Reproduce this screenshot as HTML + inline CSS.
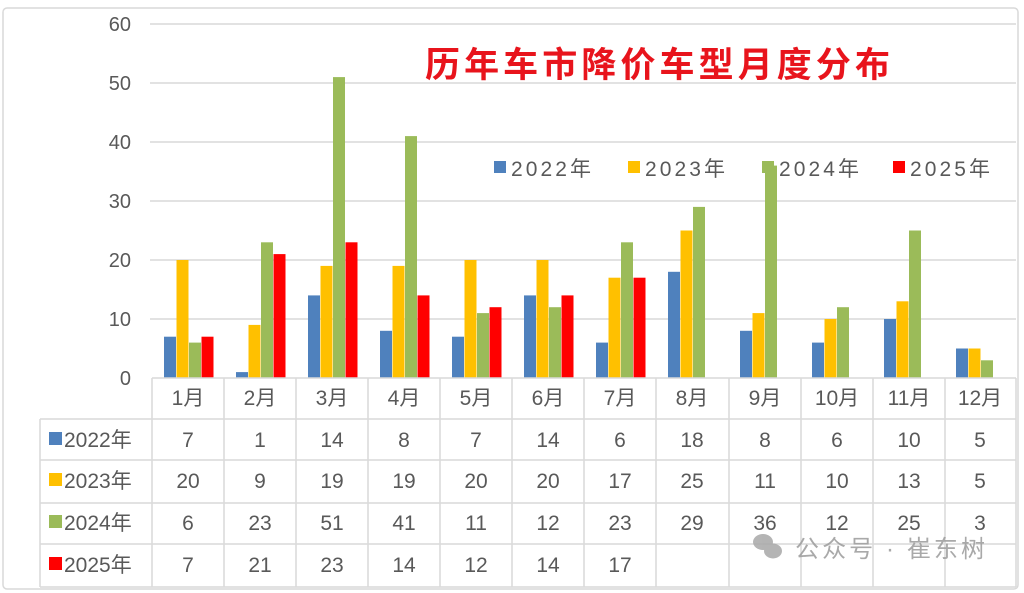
<!DOCTYPE html>
<html><head><meta charset="utf-8"><style>
html,body{margin:0;padding:0;background:#fff;}
svg{display:block;font-family:"Liberation Sans","Noto Sans CJK SC",sans-serif;}
</style></head><body>
<svg width="1024" height="593" viewBox="0 0 1024 593">
<rect x="3" y="8" width="1015" height="581" rx="4" fill="#fff" stroke="#d9d9d9" stroke-width="1.5"/>
<g stroke="#d9d9d9" stroke-width="1.5">
<line x1="150" y1="24" x2="1016" y2="24"/><line x1="150" y1="83" x2="1016" y2="83"/>
<line x1="150" y1="142" x2="1016" y2="142"/><line x1="150" y1="201" x2="1016" y2="201"/>
<line x1="150" y1="260" x2="1016" y2="260"/><line x1="150" y1="319" x2="1016" y2="319"/>
</g>
<g font-size="20" fill="#595959" text-anchor="end">
<text x="131" y="31">60</text><text x="131" y="90">50</text><text x="131" y="149">40</text>
<text x="131" y="208">30</text><text x="131" y="267">20</text><text x="131" y="326">10</text><text x="131" y="385">0</text>
</g>
<text x="425" y="77" font-size="35" font-weight="bold" fill="#e8141c" textLength="465">历年车市降价车型月度分布</text>
<g font-size="21" fill="#595959">
<rect x="494" y="161" width="12" height="12" fill="#4F81BD"/><text x="511" y="176" textLength="80">2022年</text>
<rect x="628" y="161" width="12" height="12" fill="#FFC000"/><text x="645" y="176" textLength="80">2023年</text>
<rect x="762" y="161" width="12" height="12" fill="#9BBB59"/><text x="779" y="176" textLength="80">2024年</text>
<rect x="893" y="161" width="12" height="12" fill="#FF0000"/><text x="910" y="176" textLength="80">2025年</text>
</g>
<g transform="translate(0,378) scale(1,-5.9)">
<g fill="#4F81BD">
<rect x="164" y="0" width="12" height="7"/><rect x="236" y="0" width="12" height="1"/><rect x="308" y="0" width="12" height="14"/><rect x="380" y="0" width="12" height="8"/><rect x="452" y="0" width="12" height="7"/><rect x="524" y="0" width="12" height="14"/><rect x="596" y="0" width="12" height="6"/><rect x="668" y="0" width="12" height="18"/><rect x="740" y="0" width="12" height="8"/><rect x="812" y="0" width="12" height="6"/><rect x="884" y="0" width="12" height="10"/><rect x="956" y="0" width="12" height="5"/>
</g>
<g fill="#FFC000">
<rect x="176.5" y="0" width="12" height="20"/><rect x="248.5" y="0" width="12" height="9"/><rect x="320.5" y="0" width="12" height="19"/><rect x="392.5" y="0" width="12" height="19"/><rect x="464.5" y="0" width="12" height="20"/><rect x="536.5" y="0" width="12" height="20"/><rect x="608.5" y="0" width="12" height="17"/><rect x="680.5" y="0" width="12" height="25"/><rect x="752.5" y="0" width="12" height="11"/><rect x="824.5" y="0" width="12" height="10"/><rect x="896.5" y="0" width="12" height="13"/><rect x="968.5" y="0" width="12" height="5"/>
</g>
<g fill="#9BBB59">
<rect x="189" y="0" width="12" height="6"/><rect x="261" y="0" width="12" height="23"/><rect x="333" y="0" width="12" height="51"/><rect x="405" y="0" width="12" height="41"/><rect x="477" y="0" width="12" height="11"/><rect x="549" y="0" width="12" height="12"/><rect x="621" y="0" width="12" height="23"/><rect x="693" y="0" width="12" height="29"/><rect x="765" y="0" width="12" height="36"/><rect x="837" y="0" width="12" height="12"/><rect x="909" y="0" width="12" height="25"/><rect x="981" y="0" width="12" height="3"/>
</g>
<g fill="#FF0000">
<rect x="201.5" y="0" width="12" height="7"/><rect x="273.5" y="0" width="12" height="21"/><rect x="345.5" y="0" width="12" height="23"/><rect x="417.5" y="0" width="12" height="14"/><rect x="489.5" y="0" width="12" height="12"/><rect x="561.5" y="0" width="12" height="14"/><rect x="633.5" y="0" width="12" height="17"/>
</g>
</g>
<g stroke="#d9d9d9" stroke-width="1.5" fill="none">
<line x1="152" y1="378" x2="1016" y2="378"/>
<line x1="40" y1="419" x2="1016" y2="419"/><line x1="40" y1="460" x2="1016" y2="460"/>
<line x1="40" y1="503" x2="1016" y2="503"/><line x1="40" y1="544" x2="1016" y2="544"/>
<line x1="40" y1="587" x2="1016" y2="587"/>
<line x1="40" y1="419" x2="40" y2="587"/>
<line x1="152" y1="378" x2="152" y2="587"/><line x1="224" y1="378" x2="224" y2="587"/><line x1="296" y1="378" x2="296" y2="587"/><line x1="368" y1="378" x2="368" y2="587"/><line x1="440" y1="378" x2="440" y2="587"/><line x1="512" y1="378" x2="512" y2="587"/><line x1="584" y1="378" x2="584" y2="587"/><line x1="656" y1="378" x2="656" y2="587"/><line x1="729" y1="378" x2="729" y2="587"/><line x1="801" y1="378" x2="801" y2="587"/><line x1="873" y1="378" x2="873" y2="587"/><line x1="945" y1="378" x2="945" y2="587"/><line x1="1016" y1="378" x2="1016" y2="587"/>
</g>
<g font-size="21" fill="#595959" text-anchor="middle">
<text x="188" y="405">1月</text><text x="260" y="405">2月</text><text x="332" y="405">3月</text><text x="404" y="405">4月</text><text x="476" y="405">5月</text><text x="548" y="405">6月</text><text x="620" y="405">7月</text><text x="692" y="405">8月</text><text x="765" y="405">9月</text><text x="837" y="405">10月</text><text x="909" y="405">11月</text><text x="980" y="405">12月</text>
<text x="188" y="447">7</text><text x="260" y="447">1</text><text x="332" y="447">14</text><text x="404" y="447">8</text><text x="476" y="447">7</text><text x="548" y="447">14</text><text x="620" y="447">6</text><text x="692" y="447">18</text><text x="765" y="447">8</text><text x="837" y="447">6</text><text x="909" y="447">10</text><text x="980" y="447">5</text>
<text x="188" y="488">20</text><text x="260" y="488">9</text><text x="332" y="488">19</text><text x="404" y="488">19</text><text x="476" y="488">20</text><text x="548" y="488">20</text><text x="620" y="488">17</text><text x="692" y="488">25</text><text x="765" y="488">11</text><text x="837" y="488">10</text><text x="909" y="488">13</text><text x="980" y="488">5</text>
<text x="188" y="530">6</text><text x="260" y="530">23</text><text x="332" y="530">51</text><text x="404" y="530">41</text><text x="476" y="530">11</text><text x="548" y="530">12</text><text x="620" y="530">23</text><text x="692" y="530">29</text><text x="765" y="530">36</text><text x="837" y="530">12</text><text x="909" y="530">25</text><text x="980" y="530">3</text>
<text x="188" y="572">7</text><text x="260" y="572">21</text><text x="332" y="572">23</text><text x="404" y="572">14</text><text x="476" y="572">12</text><text x="548" y="572">14</text><text x="620" y="572">17</text>
</g>
<g font-size="21" fill="#595959">
<rect x="49" y="432" width="13" height="13" fill="#4F81BD"/><text x="64" y="447">2022年</text>
<rect x="49" y="473" width="13" height="13" fill="#FFC000"/><text x="64" y="488">2023年</text>
<rect x="49" y="515" width="13" height="13" fill="#9BBB59"/><text x="64" y="530">2024年</text>
<rect x="49" y="557" width="13" height="13" fill="#FF0000"/><text x="64" y="572">2025年</text>
</g>
<g fill="#a8a8a8" opacity="0.85">
<ellipse cx="763" cy="542" rx="10" ry="8"/>
<ellipse cx="773" cy="551" rx="9" ry="7.5"/>
</g>
<text x="795" y="557" font-size="24" fill="#a0a0a0" opacity="0.9" textLength="190">公众号 · 崔东树</text>
</svg>
</body></html>
